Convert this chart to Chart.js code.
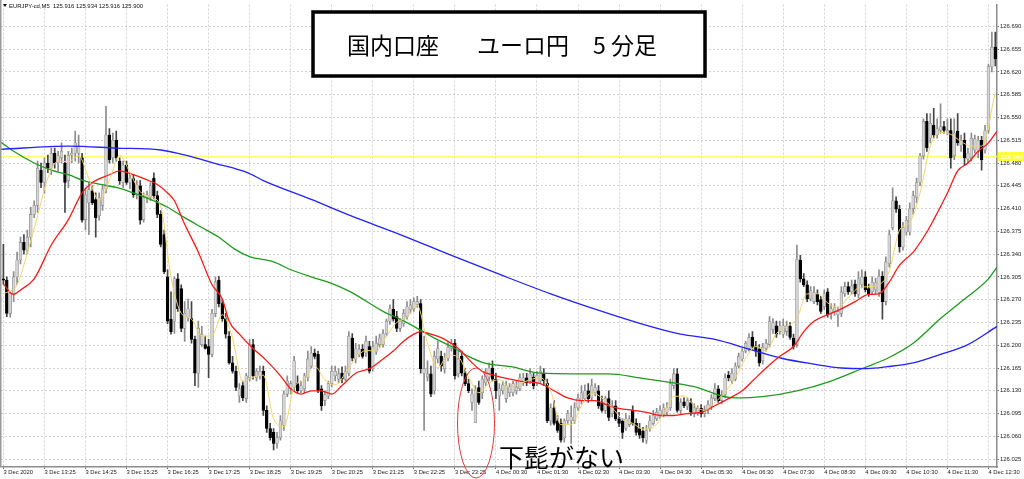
<!DOCTYPE html>
<html><head><meta charset="utf-8">
<script src="https://cdn.jsdelivr.net/npm/chart.js@4/dist/chart.umd.min.js"></script>
<style>html,body{margin:0;padding:0;background:#fff;overflow:hidden}#wrap{width:1024px;height:479px;position:relative}</style>
</head><body><div id="wrap"><canvas id="c"></canvas></div>
<script>
const timeLabels = ['3 Dec 2020','3 Dec 13:25','3 Dec 14:25','3 Dec 15:25','3 Dec 16:25','3 Dec 17:25','3 Dec 18:25','3 Dec 19:25','3 Dec 20:25','3 Dec 21:25','3 Dec 22:25','3 Dec 23:25','4 Dec 00:30','4 Dec 01:30','4 Dec 02:30','4 Dec 03:30','4 Dec 04:30','4 Dec 05:30','4 Dec 06:30','4 Dec 07:30','4 Dec 08:30','4 Dec 09:30','4 Dec 10:30','4 Dec 11:30','4 Dec 12:30'];
const timeTickIdx = [0,12,24,36,48,60,72,84,96,108,120,132,144,156,168,180,192,204,216,228,240,252,264,276,288];
const priceTicks = [126.025,126.060,126.095,126.130,126.165,126.200,126.235,126.270,126.305,126.340,126.375,126.410,126.445,126.480,126.515,126.550,126.585,126.620,126.655,126.690];

const opens = [
126.302,126.300,126.249,126.279,126.305,126.331,126.358,126.346,126.366,126.401,
126.415,126.469,126.450,126.480,126.472,126.495,126.480,126.488,126.480,126.453,
126.492,126.495,126.495,126.488,126.393,126.419,126.437,126.424,126.399,126.415,
126.440,126.523,126.488,126.515,126.483,126.450,126.477,126.450,126.456,126.431,
126.445,126.393,126.427,126.427,126.457,126.430,126.401,126.370,126.305,126.240,
126.237,126.302,126.287,126.226,126.243,126.241,126.209,126.157,126.201,126.201,
126.198,126.186,126.249,126.300,126.264,126.241,126.214,126.173,126.160,126.122,
126.138,126.118,126.150,126.201,126.150,126.153,126.160,126.100,126.072,126.066,
126.049,126.058,126.077,126.125,126.133,126.135,126.141,126.130,126.133,126.150,
126.168,126.188,126.186,126.133,126.115,126.122,126.141,126.153,126.148,126.157,
126.148,126.157,126.211,126.179,126.186,126.194,126.188,126.198,126.164,126.191,
126.201,126.201,126.218,126.237,126.255,126.244,126.226,126.233,126.244,126.255,
126.256,126.262,126.264,126.157,126.151,126.156,126.130,126.179,126.183,126.164,
126.180,126.195,126.203,126.156,126.183,126.157,126.141,126.112,126.081,126.135,
126.127,126.142,126.151,126.165,126.148,126.122,126.130,126.118,126.127,126.127,
126.130,126.133,126.142,126.150,126.145,126.151,126.142,126.145,126.157,126.142,
126.084,126.104,126.084,126.080,126.058,126.084,126.084,126.084,126.104,126.115,
126.118,126.130,126.119,126.127,126.130,126.112,126.100,126.118,126.095,126.107,
126.087,126.083,126.072,126.078,126.100,126.080,126.072,126.068,126.054,126.072,
126.080,126.087,126.090,126.094,126.097,126.104,126.138,126.156,126.100,126.113,
126.106,126.112,126.095,126.097,126.103,126.095,126.100,126.106,126.118,126.133,
126.115,126.124,126.154,126.145,126.148,126.168,126.179,126.191,126.195,126.212,
126.198,126.194,126.176,126.195,126.201,126.224,126.230,126.221,126.217,126.221,
126.229,126.211,126.201,126.331,126.302,126.293,126.271,126.267,126.279,126.270,
126.259,126.282,126.249,126.252,126.247,126.249,126.279,126.290,126.282,126.294,
126.278,126.293,126.305,126.287,126.282,126.285,126.281,126.306,126.267,126.325,
126.381,126.422,126.409,126.351,126.374,126.374,126.410,126.427,126.450,126.491,
126.544,126.518,126.538,126.523,126.530,126.536,126.526,126.530,126.491,126.529,
126.507,126.515,126.486,126.488,126.500,126.498,126.515,126.500,126.530,126.628,
126.658];
const highs = [
126.355,126.305,126.282,126.313,126.343,126.366,126.370,126.377,126.412,126.422,
126.483,126.480,126.488,126.492,126.503,126.503,126.498,126.511,126.492,126.498,
126.503,126.529,126.523,126.495,126.442,126.450,126.445,126.434,126.434,126.445,
126.567,126.533,126.526,126.529,126.488,126.483,126.483,126.465,126.462,126.453,
126.453,126.434,126.437,126.450,126.465,126.437,126.407,126.377,126.316,126.282,
126.305,126.310,126.293,126.267,126.271,126.267,126.214,126.237,126.229,126.214,
126.209,126.255,126.305,126.306,126.270,126.249,126.221,126.183,126.168,126.141,
126.145,126.157,126.209,126.209,126.164,126.168,126.168,126.107,126.080,126.072,
126.066,126.092,126.130,126.153,126.145,126.183,126.153,126.145,126.157,126.191,
126.198,126.194,126.191,126.138,126.130,126.145,126.168,126.168,126.164,126.167,
126.168,126.221,126.218,126.203,126.201,126.201,126.214,126.206,126.206,126.214,
126.217,126.224,126.240,126.262,126.270,126.252,126.240,126.255,126.267,126.270,
126.273,126.275,126.270,126.214,126.176,126.168,126.191,126.206,126.191,126.188,
126.206,126.209,126.209,126.191,126.191,126.164,126.148,126.133,126.138,126.145,
126.153,126.164,126.173,126.176,126.157,126.141,126.145,126.145,126.141,126.145,
126.145,126.156,126.157,126.157,126.164,126.157,126.160,126.168,126.164,126.148,
126.110,126.115,126.092,126.087,126.087,126.100,126.107,126.112,126.125,126.138,
126.139,126.141,126.148,126.141,126.138,126.122,126.122,126.130,126.115,126.115,
126.097,126.087,126.095,126.092,126.107,126.087,126.080,126.074,126.077,126.092,
126.100,126.103,126.107,126.110,126.112,126.148,126.164,126.164,126.118,126.119,
126.119,126.118,126.110,126.107,126.109,126.107,126.115,126.124,126.141,126.138,
126.130,126.156,126.160,126.164,126.173,126.188,126.195,126.206,126.218,126.221,
126.206,126.201,126.203,126.209,126.244,126.241,126.237,126.237,126.240,126.237,
126.235,126.217,126.354,126.338,126.310,126.299,126.290,126.290,126.285,126.275,
126.285,126.287,126.264,126.264,126.259,126.290,126.297,126.297,126.300,126.300,
126.313,126.316,126.313,126.294,126.305,126.303,126.316,126.313,126.336,126.377,
126.442,126.428,126.415,126.389,126.398,126.419,126.437,126.457,126.495,126.548,
126.556,126.556,126.564,126.548,126.571,126.544,126.548,126.548,126.548,126.556,
126.523,126.526,126.503,126.526,126.523,126.521,126.521,126.538,126.632,126.681,
126.681];
const lows = [
126.294,126.244,126.243,126.267,126.294,126.325,126.340,126.340,126.351,126.396,
126.404,126.442,126.434,126.465,126.462,126.472,126.468,126.480,126.404,126.442,
126.480,126.483,126.480,126.389,126.377,126.370,126.416,126.366,126.392,126.407,
126.434,126.480,126.480,126.483,126.447,126.442,126.447,126.440,126.427,126.425,
126.386,126.389,126.419,126.422,126.425,126.396,126.351,126.310,126.233,126.217,
126.218,126.252,126.221,126.206,126.237,126.203,126.138,126.135,126.198,126.194,
126.150,126.182,126.244,126.259,126.237,126.211,126.171,126.157,126.130,126.112,
126.115,126.112,126.145,126.148,126.145,126.148,126.092,126.066,126.054,126.039,
126.042,126.054,126.069,126.121,126.125,126.130,126.127,126.127,126.127,126.145,
126.164,126.179,126.127,126.100,126.107,126.118,126.136,126.145,126.142,126.142,
126.145,126.153,126.176,126.173,126.182,126.180,126.183,126.157,126.160,126.186,
126.197,126.197,126.214,126.232,126.237,126.221,126.221,126.229,126.240,126.249,
126.252,126.258,126.157,126.069,126.145,126.121,126.125,126.173,126.160,126.157,
126.176,126.191,126.148,126.151,126.153,126.138,126.127,126.100,126.081,126.109,
126.118,126.138,126.145,126.145,126.118,126.100,126.125,126.112,126.121,126.122,
126.125,126.130,126.138,126.138,126.141,126.133,126.138,126.142,126.138,126.081,
126.077,126.077,126.066,126.051,126.051,126.080,126.049,126.080,126.100,126.110,
126.115,126.112,126.115,126.122,126.103,126.097,126.095,126.084,126.090,126.084,
126.075,126.057,126.069,126.075,126.077,126.062,126.057,126.051,126.049,126.068,
126.077,126.084,126.087,126.090,126.092,126.100,126.133,126.097,126.095,126.104,
126.101,126.092,126.090,126.092,126.090,126.090,126.095,126.101,126.115,126.112,
126.110,126.119,126.145,126.141,126.145,126.165,126.176,126.188,126.191,126.194,
126.183,126.168,126.171,126.191,126.197,126.218,126.212,126.217,126.212,126.215,
126.209,126.194,126.197,126.297,126.290,126.267,126.268,126.264,126.262,126.249,
126.255,126.243,126.240,126.246,126.229,126.244,126.275,126.278,126.278,126.275,
126.273,126.288,126.282,126.275,126.278,126.279,126.275,126.240,126.262,126.320,
126.377,126.404,126.343,126.346,126.369,126.369,126.401,126.419,126.445,126.486,
126.498,126.511,126.518,126.518,126.526,126.526,126.523,126.472,126.485,126.507,
126.498,126.477,126.480,126.483,126.495,126.488,126.469,126.495,126.526,126.620,
126.629];
const closes = [
126.300,126.249,126.279,126.305,126.331,126.358,126.346,126.366,126.401,126.415,
126.472,126.450,126.480,126.472,126.495,126.480,126.491,126.498,126.450,126.492,
126.495,126.511,126.506,126.392,126.431,126.439,126.419,126.396,126.427,126.440,
126.523,126.485,126.515,126.488,126.453,126.477,126.450,126.457,126.431,126.447,
126.392,126.427,126.431,126.445,126.430,126.401,126.355,126.313,126.237,126.221,
126.302,126.256,126.226,126.249,126.256,126.209,126.157,126.226,126.217,126.195,
126.186,126.249,126.297,126.264,126.241,126.217,126.173,126.160,126.135,126.133,
126.119,126.153,126.201,126.153,126.160,126.160,126.100,126.072,126.058,126.049,
126.058,126.084,126.125,126.145,126.141,126.176,126.130,126.138,126.153,126.179,
126.188,126.183,126.130,126.107,126.124,126.141,126.160,126.160,126.156,126.148,
126.160,126.214,126.180,126.195,126.194,126.183,126.206,126.160,126.198,126.203,
126.211,126.218,126.237,126.256,126.240,126.226,126.237,126.249,126.259,126.262,
126.267,126.267,126.164,126.164,126.156,126.125,126.183,126.195,126.168,126.179,
126.197,126.203,126.153,126.179,126.157,126.141,126.130,126.125,126.130,126.112,
126.148,126.157,126.165,126.148,126.130,126.133,126.139,126.138,126.136,126.141,
126.136,126.150,126.150,126.142,126.156,126.138,126.154,126.160,126.145,126.084,
126.104,126.080,126.069,126.054,126.084,126.095,126.090,126.104,126.119,126.127,
126.130,126.118,126.138,126.135,126.107,126.100,126.118,126.089,126.107,126.087,
126.080,126.066,126.087,126.087,126.080,126.066,126.062,126.058,126.069,126.084,
126.092,126.097,126.100,126.104,126.104,126.141,126.156,126.100,126.112,126.107,
126.115,126.097,126.104,126.103,126.095,126.101,126.109,126.119,126.133,126.115,
126.124,126.150,126.150,126.157,126.168,126.183,126.191,126.203,126.212,126.198,
126.191,126.173,126.197,126.203,126.237,126.235,126.217,126.230,126.230,126.230,
126.212,126.198,126.332,126.302,126.293,126.271,126.284,126.281,126.267,126.252,
126.279,126.247,126.256,126.258,126.252,126.282,126.290,126.282,126.291,126.279,
126.302,126.305,126.285,126.279,126.297,126.296,126.306,126.267,126.328,126.370,
126.422,126.409,126.351,126.381,126.392,126.410,126.430,126.450,126.491,126.544,
126.503,126.541,126.523,126.533,126.536,126.530,126.530,126.488,126.526,126.511,
126.515,126.488,126.495,126.518,126.517,126.515,126.485,126.530,126.628,126.658,
126.640];

const maYellow = [[0,126.279],[4,126.293],[7,126.342],[10,126.399],[13,126.457],[16,126.483],[19,126.482],[22,126.491],[25,126.456],[28,126.422],[31,126.454],[34,126.492],[37,126.465],[40,126.436],[43,126.428],[46,126.413],[49,126.305],[52,126.249],[55,126.240],[58,126.214],[61,126.215],[64,126.247],[67,126.211],[70,126.144],[73,126.151],[76,126.154],[79,126.087],[82,126.075],[85,126.135],[88,126.147],[91,126.168],[94,126.147],[97,126.139],[100,126.157],[103,126.180],[106,126.192],[109,126.191],[112,126.214],[115,126.235],[118,126.243],[121,126.261],[124,126.203],[127,126.165],[130,126.185],[133,126.182],[136,126.151],[139,126.127],[142,126.142],[145,126.147],[148,126.135],[151,126.141],[154,126.147],[157,126.150],[160,126.130],[163,126.078],[166,126.078],[169,126.107],[172,126.127],[175,126.119],[178,126.104],[181,126.086],[184,126.080],[187,126.071],[190,126.074],[193,126.095],[196,126.121],[199,126.122],[202,126.107],[205,126.100],[208,126.112],[211,126.128],[214,126.150],[217,126.180],[220,126.198],[223,126.192],[226,126.218],[229,126.229],[232,126.241],[235,126.279],[238,126.279],[241,126.265],[244,126.258],[247,126.273],[250,126.288],[253,126.290],[256,126.293],[259,126.314],[262,126.377],[265,126.389],[268,126.434],[271,126.506],[274,126.527],[277,126.524],[280,126.513],[283,126.506],[286,126.506],[288,126.535],[289,126.564],[290,126.588]];
const maRed = [[0,126.294],[3,126.278],[5,126.285],[9,126.302],[14,126.354],[19,126.393],[23,126.434],[26,126.450],[31,126.462],[34,126.468],[38,126.462],[42,126.454],[45,126.447],[48,126.434],[50,126.422],[53,126.386],[57,126.343],[61,126.293],[64,126.271],[66,126.237],[69,126.217],[73,126.195],[77,126.176],[81,126.153],[84,126.133],[87,126.125],[90,126.130],[93,126.130],[96,126.125],[99,126.138],[103,126.157],[107,126.164],[111,126.179],[114,126.191],[117,126.206],[120,126.217],[122,126.221],[125,126.217],[129,126.209],[133,126.195],[137,126.173],[140,126.160],[144,126.153],[148,126.148],[152,126.144],[157,126.141],[161,126.130],[165,126.119],[169,126.115],[173,126.115],[177,126.107],[180,126.103],[184,126.100],[188,126.097],[192,126.092],[196,126.092],[200,126.095],[204,126.097],[208,126.107],[212,126.118],[216,126.130],[219,126.145],[223,126.165],[227,126.183],[231,126.198],[234,126.221],[237,126.237],[241,126.247],[245,126.256],[249,126.267],[253,126.278],[256,126.279],[259,126.297],[262,126.323],[266,126.343],[270,126.374],[272,126.393],[276,126.434],[279,126.468],[282,126.480],[285,126.498],[288,126.511],[290.5,126.529]];
const maGreen = [[-0.7,126.512],[3,126.498],[9,126.480],[14,126.469],[19,126.462],[23.5,126.453],[28.4,126.447],[33.3,126.442],[38,126.434],[43,126.424],[48,126.412],[53,126.396],[58,126.381],[63,126.366],[67.5,126.348],[72,126.336],[79,126.328],[84,126.316],[90,126.305],[95,126.297],[101.5,126.282],[111,126.252],[116,126.240],[121,126.226],[126,126.211],[131,126.198],[136,126.183],[140.5,126.173],[148.5,126.167],[157,126.157],[167,126.156],[177,126.156],[186,126.150],[196,126.142],[203,126.135],[210,126.122],[214,126.119],[222,126.121],[232,126.130],[242,126.145],[251.5,126.165],[258.5,126.180],[266,126.203],[274,126.241],[281,126.271],[288,126.302],[290.5,126.320]];
const maBlue = [[-0.7,126.501],[19,126.506],[33,126.503],[46,126.500],[54,126.491],[61.5,126.480],[71.5,126.465],[76,126.453],[90,126.424],[101.5,126.399],[116,126.370],[131,126.338],[145.5,126.308],[160,126.279],[175,126.252],[186.5,126.233],[198,126.217],[208,126.209],[218,126.194],[227.5,126.180],[237,126.171],[245,126.165],[252.5,126.164],[258.5,126.167],[266,126.173],[274,126.186],[282,126.201],[290.5,126.229]];
const levelPrice = 126.490;
const headerText = 'EURJPY-cd,M5  125.916 125.934 125.916 125.900';
const titleParts = ['国内口座', 'ユーロ円', '5 分足'];
const noteText = '下髭がない';

const isUp = closes.map((c, i) => c >= opens[i]);
const wickData = highs.map((h, i) => ({x: i, y: [lows[i], h]}));
const bodyData = opens.map((o, i) => ({x: i, y: [o, closes[i]]}));
const pts = arr => arr.map(p => ({x: p[0], y: p[1]}));
const lineDs = (arr, color, w, ord) => ({type: 'line', data: pts(arr), borderColor: color, borderWidth: w, pointRadius: 0, cubicInterpolationMode: 'monotone', fill: false, order: ord});

const overlay = {
  id: 'overlay',
  afterDraw(chart) {
    const ctx = chart.ctx, ya = chart.scales.y, area = chart.chartArea;
    ctx.save();
    ctx.strokeStyle = '#9a9a9a'; ctx.lineWidth = 1.5;
    ctx.beginPath(); ctx.moveTo(0.75, 0); ctx.lineTo(0.75, area.bottom); ctx.stroke();
    const ly = ya.getPixelForValue(levelPrice);
    ctx.fillStyle = '#ffff33';
    ctx.fillRect(area.right + 1, ly - 4.5, 1024 - area.right - 1, 9);
    ctx.fillStyle = '#ffffff';
    ctx.font = '6px "Liberation Sans"'; ctx.textBaseline = 'middle'; ctx.textAlign = 'left';
    ctx.fillText(levelPrice.toFixed(3), area.right + 4, ly + 0.5);
    ctx.fillStyle = '#111';
    ctx.beginPath(); ctx.moveTo(3, 4); ctx.lineTo(7, 4); ctx.lineTo(5, 7); ctx.closePath(); ctx.fill();
    ctx.font = '5.9px "Liberation Sans"'; ctx.textBaseline = 'middle';
    ctx.fillText(headerText, 9, 6);
    ctx.fillStyle = '#fff';
    ctx.fillRect(313, 12, 392, 64);
    ctx.strokeStyle = '#000'; ctx.lineWidth = 3.5;
    ctx.strokeRect(313, 12, 392, 64);
    ctx.fillStyle = '#000';
    ctx.font = '23px "Noto Sans CJK JP"'; ctx.textBaseline = 'alphabetic';
    ctx.fillText(titleParts[0], 347, 54);
    ctx.fillText(titleParts[1], 477, 54);
    ctx.fillText(titleParts[2], 593, 54);
    ctx.strokeStyle = '#e23b3b'; ctx.lineWidth = 1;
    ctx.beginPath(); ctx.ellipse(476, 423, 18.5, 55, 0, 0, Math.PI * 2); ctx.stroke();
    ctx.fillStyle = '#000';
    ctx.font = '25px "Noto Sans CJK JP"';
    ctx.fillText(noteText, 499, 467);
    ctx.restore();
  }
};

new Chart(document.getElementById('c'), {
  type: 'bar',
  data: {
    datasets: [
      {type: 'line', data: [{x: -0.7, y: levelPrice}, {x: 290.5, y: levelPrice}], borderColor: '#ffff70', borderWidth: 1.3, pointRadius: 0, order: 5},
      {type: 'bar', data: wickData, grouped: false, barThickness: 1, backgroundColor: isUp.map(u => u ? '#8c8c8c' : '#444'), order: 4},
      {type: 'bar', data: bodyData, grouped: false, barThickness: 2.8, minBarLength: 1, backgroundColor: isUp.map(u => u ? '#d4d4d4' : '#000'), borderColor: isUp.map(u => u ? '#888' : '#000'), borderWidth: 0.6, borderSkipped: false, order: 3},
      lineDs(maBlue, '#2323ff', 1.3, 2),
      lineDs(maGreen, '#1f9a1f', 1.3, 2),
      lineDs(maRed, '#ff1a1a', 1.3, 1),
      lineDs(maYellow, '#f3d36a', 1, 0)
    ]
  },
  options: {
    responsive: true, maintainAspectRatio: false, animation: false,
    layout: {padding: {left: 1, right: 0, top: 0, bottom: 0}},
    plugins: {legend: {display: false}, tooltip: {enabled: false}},
    events: [],
    scales: {
      x: {
        type: 'linear', min: -0.7, max: 290.5, offset: false,
        afterBuildTicks: s => { s.ticks = timeTickIdx.map(v => ({value: v})); },
        afterFit: s => { s.height = 12; },
        ticks: {autoSkip: false, maxRotation: 0, minRotation: 0, align: 'start', padding: 0, color: '#222',
          font: {family: 'Liberation Sans', size: 5.8},
          callback: (v, i) => timeLabels[i]},
        grid: {color: '#d2d2d2', lineWidth: 1, offset: false, drawTicks: true, tickLength: 2, tickColor: '#666'},
        border: {display: true, color: '#8c8c8c', width: 1.5, dash: [2, 2]}
      },
      y: {
        position: 'right', min: 126.0129, max: 126.7235,
        afterBuildTicks: s => { s.ticks = priceTicks.map(v => ({value: v})); },
        afterFit: s => { s.width = 27; },
        ticks: {padding: 1, color: '#222', font: {family: 'Liberation Sans', size: 5.9},
          callback: v => Number(v).toFixed(3)},
        grid: {color: '#d2d2d2', lineWidth: 1, drawTicks: true, tickLength: 2, tickColor: '#666'},
        border: {display: true, color: '#8c8c8c', width: 1.5, dash: [2, 2]}
      }
    }
  },
  plugins: [overlay]
});
</script>
</body></html>
